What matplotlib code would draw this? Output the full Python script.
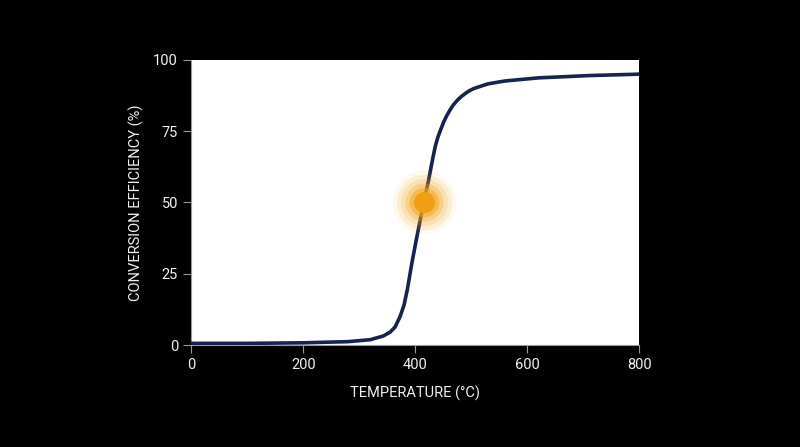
import matplotlib.pyplot as plt

# curve points
temperature = [0, 100, 200, 280, 320, 343, 355, 364, 373, 380, 386, 394, 403, 415,
               424, 432, 436, 440, 445, 451, 456, 462, 468, 475, 482, 490, 497,
               505, 530, 560, 620, 710, 800]
efficiency = [0.6, 0.6, 0.8, 1.2, 1.9, 3.2, 4.5, 6.3, 10.0, 14.0, 19.5, 28.7, 38.0, 49.7,
              57.9, 66.1, 69.8, 72.6, 75.3, 78.3, 80.3, 82.4, 84.2, 85.8, 87.1, 88.3, 89.2,
              90.0, 91.6, 92.6, 93.7, 94.5, 95.0]

mark_temp = 416
mark_eff = 50

x_ticks = [0, 200, 400, 600, 800]
y_ticks = [0, 25, 50, 75, 100]

plt.rcParams['font.family'] = ['Roboto', 'DejaVu Sans']

fig = plt.figure(figsize=(8, 4.47), dpi=100, facecolor='black')
ax = fig.add_axes([0.239, 0.228, 0.56, 0.638])
ax.set_facecolor('white')

ax.plot(temperature, efficiency, color='#14234f', linewidth=2.6,
        solid_capstyle='round', solid_joinstyle='round', zorder=3)

# glowing marker at the midpoint
for size, alpha in [(2100, 0.08), (1600, 0.12), (1150, 0.18), (750, 0.3), (450, 0.5)]:
    ax.scatter([mark_temp], [mark_eff], s=size, color='#f5a623', alpha=alpha,
               linewidths=0, zorder=4)
ax.scatter([mark_temp], [mark_eff], s=230, color='#f09e16', linewidths=0, zorder=5)

ax.set_xlim(0, 800)
ax.set_ylim(0, 100)
ax.set_xticks(x_ticks)
ax.set_yticks(y_ticks)

for side in ['top', 'right']:
    ax.spines[side].set_visible(False)
for side in ['left', 'bottom']:
    ax.spines[side].set_color('#9a9a9a')
    ax.spines[side].set_linewidth(0.8)

ax.tick_params(colors='#f0f0f0', labelsize=10.5, length=6, width=0.8)
ax.tick_params(axis='both', which='both', color='#9a9a9a')

ax.set_xlabel('TEMPERATURE (°C)', color='#f0f0f0', fontsize=10.5, labelpad=10)
ax.set_ylabel('CONVERSION EFFICIENCY (%)', color='#f0f0f0', fontsize=10.5, labelpad=7)

fig.savefig('out.png', dpi=100, facecolor='black')
